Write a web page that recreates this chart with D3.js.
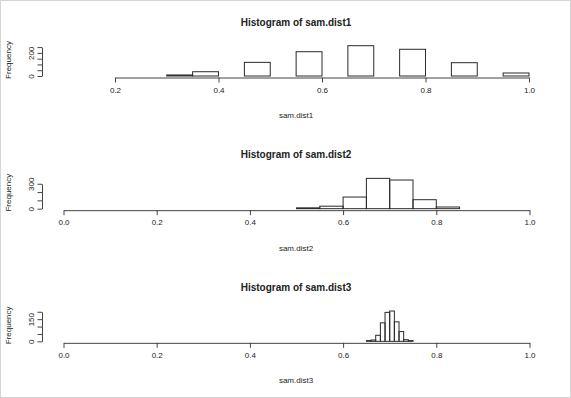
<!DOCTYPE html>
<html>
<head>
<meta charset="utf-8">
<script src="https://cdn.jsdelivr.net/npm/d3@7"></script>
<style>
  body { margin: 0; background: #fff; }
  text { font-family: "Liberation Sans", Arial, sans-serif; fill: #222; }
</style>
</head>
<body>
<script>
// ---------------- DATA ----------------
const titles = ["Histogram of sam.dist1", "Histogram of sam.dist2", "Histogram of sam.dist3"];
const xLabels = ["sam.dist1", "sam.dist2", "sam.dist3"];

const breaks1 = [0.2, 0.25, 0.3, 0.35, 0.4, 0.45, 0.5, 0.55, 0.6, 0.65, 0.7, 0.75, 0.8, 0.85, 0.9, 0.95, 1.0];
const counts1 = [0, 0, 9, 37, 0, 118, 0, 210, 0, 262, 0, 231, 0, 115, 0, 26];

const breaks2 = [0.5, 0.55, 0.6, 0.65, 0.7, 0.75, 0.8, 0.85];
const counts2 = [10, 30, 140, 365, 345, 108, 20];

const breaks3 = [0.65, 0.66, 0.67, 0.68, 0.69, 0.70, 0.71, 0.72, 0.73, 0.74, 0.75];
const counts3 = [5, 9, 41, 125, 196, 205, 132, 66, 11, 5];

const xTicks1 = [0.2, 0.4, 0.6, 0.8, 1.0];
const xTicks = [0.0, 0.2, 0.4, 0.6, 0.8, 1.0];

const yTicks1 = [0, 50, 100, 150, 200, 250];
const yTicks2 = [0, 100, 200, 300];
const yTicks3 = [0, 50, 100, 150, 200];
const yShown1 = [0, 200];
const yShown2 = [0, 300];
const yShown3 = [0, 150];

// ---------------- LAYOUT ----------------
const width = 571, height = 398;
const panelH = height / 3;
const yAxisX = 42;
const barMaxPx = 30.3;

const svg = d3.select("body").append("svg")
  .attr("width", width).attr("height", height);

// light frame round the picture
svg.append("rect").attr("x", 0.5).attr("y", 0.5)
  .attr("width", width - 1).attr("height", height - 1)
  .attr("fill", "#fff").attr("stroke", "#d4d4d4");

const panels = [
  {breaks: breaks1, counts: counts1, xDom: [0.2, 1.0], xRange: [115, 529], xt: xTicks1, yt: yTicks1, ys: yShown1},
  {breaks: breaks2, counts: counts2, xDom: [0.0, 1.0], xRange: [63.5, 529.5], xt: xTicks, yt: yTicks2, ys: yShown2},
  {breaks: breaks3, counts: counts3, xDom: [0.0, 1.0], xRange: [63.5, 529.5], xt: xTicks, yt: yTicks3, ys: yShown3}
];

panels.forEach(function(p, i) {
  const off = i * panelH;
  const y0 = off + 76;
  const g = svg.append("g");

  const x = d3.scaleLinear().domain(p.xDom).range(p.xRange);
  const maxC = d3.max(p.counts);
  const y = d3.scaleLinear().domain([0, maxC]).range([y0, y0 - barMaxPx]);

  // bars (zero-height bins still drawn, like R)
  const bins = p.counts.map(function(c, k) {
    return {x0: p.breaks[k], x1: p.breaks[k + 1], n: c};
  });
  g.selectAll("rect.bar").data(bins).enter().append("rect")
    .attr("class", "bar")
    .attr("x", d => x(d.x0))
    .attr("width", d => x(d.x1) - x(d.x0))
    .attr("y", d => y(d.n))
    .attr("height", d => y0 - y(d.n))
    .attr("fill", "none")
    .attr("stroke", "#2a2a2a")
    .attr("stroke-width", 1);

  // x axis
  const xa = g.append("g")
    .attr("transform", "translate(0," + (y0 + 1.5) + ")")
    .call(d3.axisBottom(x).tickValues(p.xt).tickSize(5).tickSizeOuter(0)
      .tickFormat(d3.format(".1f")));
  xa.selectAll("path, line").attr("stroke", "#444");
  xa.selectAll("text").attr("font-size", 8).attr("font-family", null)
    .attr("dy", "0.9em").attr("y", 8);

  // y axis, line only over the tick span
  const yAxScale = y.copy().domain([0, d3.max(p.yt)]).range([y(0), y(d3.max(p.yt))]);
  const ya = g.append("g")
    .attr("transform", "translate(" + yAxisX + ",0)")
    .call(d3.axisLeft(yAxScale).tickValues(p.yt).tickSize(4.5).tickSizeOuter(0)
      .tickFormat(d => p.ys.includes(d) ? d : ""));
  ya.selectAll("path, line").attr("stroke", "#444");
  ya.selectAll("text").attr("font-size", 8).attr("font-family", null)
    .attr("x", null).attr("dy", null)
    .attr("text-anchor", "middle")
    .attr("transform", "translate(-11,0) rotate(-90)")
    .attr("dy", "0.35em");

  // titles
  g.append("text").attr("x", 296).attr("y", off + 22)
    .attr("text-anchor", "middle").attr("dominant-baseline", "central")
    .attr("font-size", 10).attr("font-weight", "bold").attr("fill", "#111")
    .text(titles[i]);

  g.append("text").attr("x", 296).attr("y", off + 115.5)
    .attr("text-anchor", "middle").attr("dominant-baseline", "central")
    .attr("font-size", 8).text(xLabels[i]);

  g.append("text")
    .attr("transform", "translate(8," + (y0 - 16) + ") rotate(-90)")
    .attr("text-anchor", "middle").attr("dominant-baseline", "central")
    .attr("font-size", 8).text("Frequency");
});
</script>
</body>
</html>
